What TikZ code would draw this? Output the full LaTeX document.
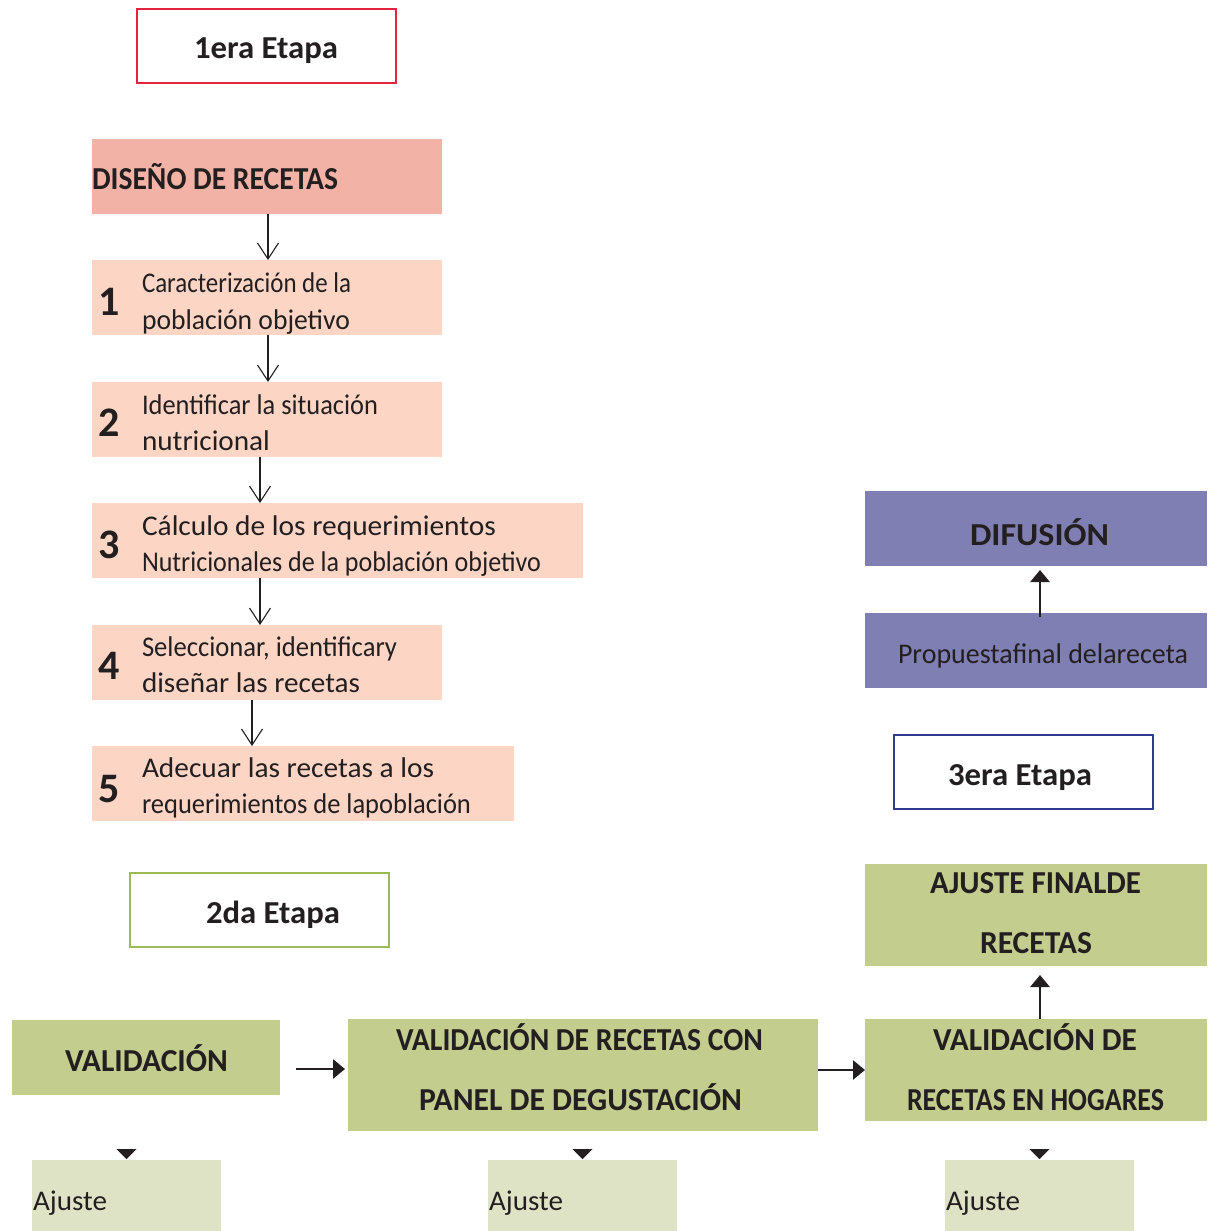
\documentclass[tikz,border=0pt]{standalone}
\usepackage{fontspec}
\setmainfont{Carlito}
\usetikzlibrary{arrows.meta,calc}
\definecolor{ink}{HTML}{231F20}
\definecolor{salmon}{HTML}{F2B3A6}
\definecolor{stepfill}{HTML}{FCD5C4}
\definecolor{purp}{HTML}{7F7FB4}
\definecolor{grn}{HTML}{C2CD8E}
\definecolor{lgrn}{HTML}{DFE3C6}
\definecolor{redb}{HTML}{E22440}
\definecolor{grnb}{HTML}{9BBB59}
\definecolor{blub}{HTML}{2F3B8F}
\newcommand{\fitw}[2]{\resizebox{#1pt}{\height}{#2}}
\begin{document}
\begin{tikzpicture}[x=1pt,y=-1pt,
  box/.style={rectangle, inner sep=0pt, outer sep=0pt, anchor=north west},
  txt/.style={inner sep=0pt, outer sep=0pt, text=ink, font=\fontsize{28.5}{34}\selectfont},
  hd/.style={inner sep=0pt, outer sep=0pt, text=ink, font=\bfseries\fontsize{32}{38}\selectfont},
  num/.style={inner sep=0pt, outer sep=0pt, text=ink, anchor=base west, font=\bfseries\fontsize{42}{50}\selectfont},
  thinarr/.style={draw=ink, line width=1.1pt, -{Straight Barb[length=16pt,width=21pt]}},
  fatarr/.style={draw=ink, line width=2.8pt, -{Triangle[length=12pt,width=19pt]}}]
\path[use as bounding box] (0,0) rectangle (1207,1231);

% ---------- boxes ----------
\node[box, draw=redb, line width=2pt, minimum width=259pt, minimum height=74pt] (e1) at (137,9) {};
\node[box, fill=salmon, minimum width=350pt, minimum height=75pt] (dis) at (92,139) {};
\node[box, fill=stepfill, minimum width=350pt, minimum height=75pt] (s1) at (92,260) {};
\node[box, fill=stepfill, minimum width=350pt, minimum height=75pt] (s2) at (92,382) {};
\node[box, fill=stepfill, minimum width=491pt, minimum height=75pt] (s3) at (92,503) {};
\node[box, fill=stepfill, minimum width=350pt, minimum height=75pt] (s4) at (92,625) {};
\node[box, fill=stepfill, minimum width=422pt, minimum height=75pt] (s5) at (92,746) {};
\node[box, draw=grnb, line width=2pt, minimum width=259pt, minimum height=74pt] (e2) at (130,873) {};
\node[box, draw=blub, line width=2pt, minimum width=259pt, minimum height=74pt] (e3) at (894,735) {};
\node[box, fill=purp, minimum width=342pt, minimum height=75pt] (dif) at (865,491) {};
\node[box, fill=purp, minimum width=342pt, minimum height=75pt] (prop) at (865,613) {};
\node[box, fill=grn, minimum width=342pt, minimum height=102pt] (ajf) at (865,864) {};
\node[box, fill=grn, minimum width=342pt, minimum height=102pt] (vh) at (865,1019) {};
\node[box, fill=grn, minimum width=470pt, minimum height=112pt] (vp) at (348,1019) {};
\node[box, fill=grn, minimum width=268pt, minimum height=75pt] (val) at (12,1020) {};
\node[box, fill=lgrn, minimum width=189pt, minimum height=71pt] (a1) at (32,1160) {};
\node[box, fill=lgrn, minimum width=189pt, minimum height=71pt] (a2) at (488,1160) {};
\node[box, fill=lgrn, minimum width=189pt, minimum height=71pt] (a3) at (945,1160) {};

% ---------- texts ----------
\node[hd, anchor=base] (te1) at (266,59) {\fitw{144}{1era Etapa}};
\node[hd, anchor=base west] (tdis) at (92,189) {\fitw{246}{DISEÑO DE RECETAS}};

\node[num] (n1) at (98,315) {1};
\node[txt, anchor=base west] (s1a) at (142,292) {\fitw{209}{Caracterización de la}};
\node[txt, anchor=base west] (s1b) at (142,329) {\fitw{208}{población objetivo}};

\node[num] (n2) at (98,436) {2};
\node[txt, anchor=base west] (s2a) at (142,414) {\fitw{236}{Identificar la situación}};
\node[txt, anchor=base west] (s2b) at (142,450) {\fitw{128}{nutricional}};

\node[num] (n3) at (98,558) {3};
\node[txt, anchor=base west] (s3a) at (142,535) {\fitw{354}{Cálculo de los requerimientos}};
\node[txt, anchor=base west] (s3b) at (142,571) {\fitw{399}{Nutricionales de la población objetivo}};

\node[num] (n4) at (98,679) {4};
\node[txt, anchor=base west] (s4a) at (142,656) {\fitw{255}{Seleccionar, identificary}};
\node[txt, anchor=base west] (s4b) at (142,692) {\fitw{218}{diseñar las recetas}};

\node[num] (n5) at (98,802) {5};
\node[txt, anchor=base west] (s5a) at (142,777) {\fitw{292}{Adecuar las recetas a los}};
\node[txt, anchor=base west] (s5b) at (142,813) {\fitw{329}{requerimientos de lapoblación}};

\node[hd, anchor=base] (t2) at (273,923) {\fitw{134}{2da Etapa}};
\node[hd, anchor=base] (t3) at (1020,785) {\fitw{144}{3era Etapa}};
\node[hd, anchor=base] (tdif) at (1039.5,545) {\fitw{139}{DIFUSIÓN}};
\node[txt, anchor=base west] (tprop) at (898,663) {\fitw{290}{Propuestafinal delareceta}};
\node[hd, anchor=base] (tajf1) at (1035.5,893) {\fitw{211}{AJUSTE FINALDE}};
\node[hd, anchor=base] (tajf2) at (1036,953) {\fitw{112}{RECETAS}};
\node[hd, anchor=base] (tvh1) at (1035,1050) {\fitw{204}{VALIDACIÓN DE}};
\node[hd, anchor=base] (tvh2) at (1035.5,1110) {\fitw{257}{RECETAS EN HOGARES}};
\node[hd, anchor=base] (tvp1) at (579.5,1050) {\fitw{367}{VALIDACIÓN DE RECETAS CON}};
\node[hd, anchor=base] (tvp2) at (580.5,1110) {\fitw{323}{PANEL DE DEGUSTACIÓN}};
\node[hd, anchor=base] (tval) at (146.5,1071) {\fitw{163}{VALIDACIÓN}};
\node[txt, anchor=base west] (ta1) at (33,1210) {\fitw{74}{Ajuste}};
\node[txt, anchor=base west] (ta2) at (489,1210) {\fitw{74}{Ajuste}};
\node[txt, anchor=base west] (ta3) at (946,1210) {\fitw{74}{Ajuste}};

% ---------- connectors ----------
\coordinate (c1) at (268,0);
\coordinate (c3) at (260,0);
\coordinate (c5) at (252,0);
\coordinate (cr) at (1040,0);
\coordinate (r1) at (0,1069);
\coordinate (r2) at (0,1070);

\draw[thinarr] (dis.south -| c1) -- (s1.north -| c1);
\draw[thinarr] (s1.south -| c1) -- (s2.north -| c1);
\draw[thinarr] (s2.south -| c3) -- (s3.north -| c3);
\draw[thinarr] (s3.south -| c3) -- (s4.north -| c3);
\draw[thinarr] (s4.south -| c5) -- (s5.north -| c5);

\draw[fatarr] ($(val.east |- r1)+(16,0)$) -- ($(vp.west |- r1)+(-3,0)$);
\draw[fatarr] (vp.east |- r2) -- (vh.west |- r2);
\draw[fatarr] (vh.north -| cr) -- ($(ajf.south -| cr)+(0,9)$);
\draw[fatarr] ($(prop.north -| cr)+(0,4)$) -- ($(dif.south -| cr)+(0,4)$);

% small arrowheads above the Ajuste boxes
\foreach \a in {a1,a2,a3}{
  \fill[ink] ($(\a.north)+(-10,-11)$) -- ($(\a.north)+(10,-11)$) -- ($(\a.north)+(0,-1)$) -- cycle;
}
\end{tikzpicture}
\end{document}
